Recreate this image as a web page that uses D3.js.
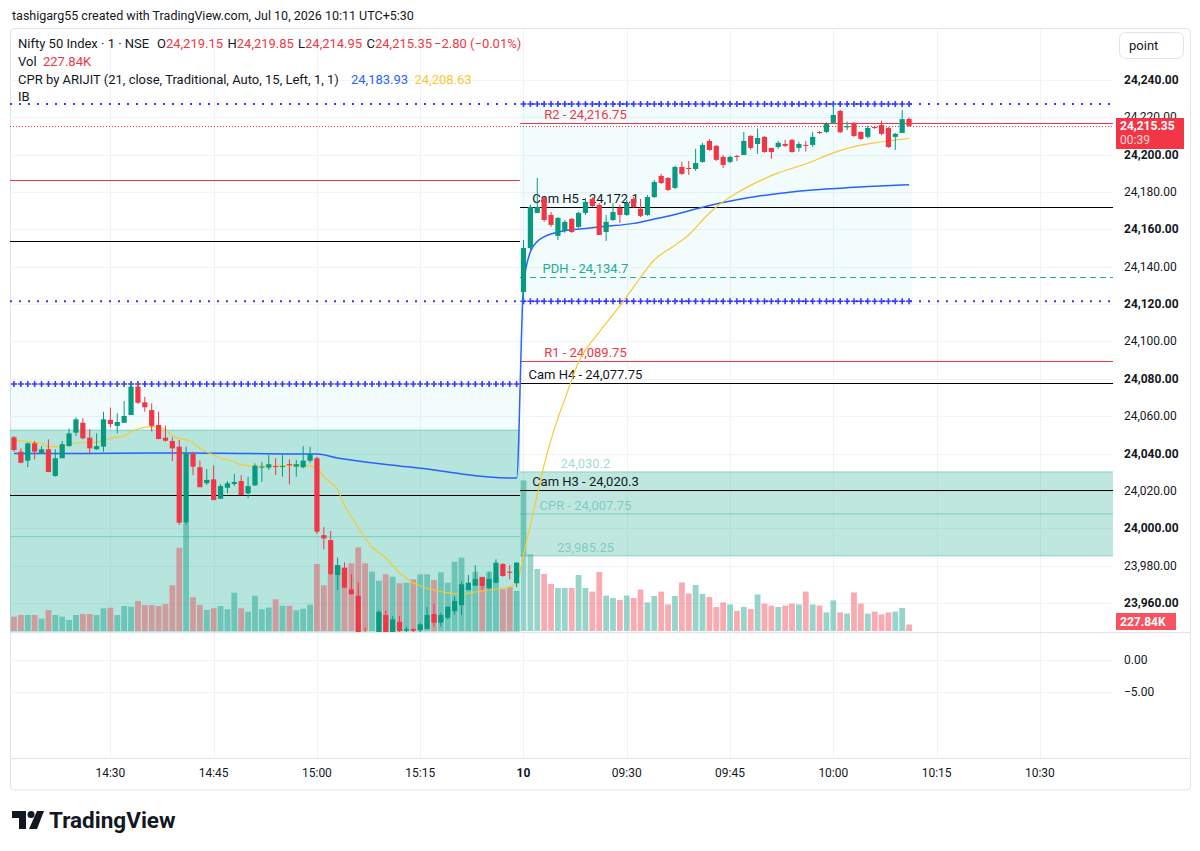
<!DOCTYPE html>
<meta charset="utf-8">
<head>
<style>
  html, body { margin: 0; padding: 0; background: #ffffff; }
  svg text { font-family: Roboto, "Noto Sans", sans-serif; fill: #131722; }
</style>
<script src="https://d3js.org/d3.v7.min.js"></script>
</head>
<body>
<script>

// DATA  (price bars as [open, high, low, close])

// 14:16 .. 15:29 previous session
var prevOhlc = [
  [24048.7,24049.4,24041.0,24041.9],[24041.0,24042.8,24034.8,24035.1],[24036.2,24045.8,24032.7,24045.5],
  [24045.5,24046.7,24036.9,24041.0],[24039.8,24044.0,24039.8,24042.3],[24042.3,24047.6,24030.1,24030.1],
  [24028.0,24042.3,24027.6,24037.5],[24037.5,24046.7,24037.5,24045.0],[24044.0,24053.3,24043.7,24050.8],
  [24051.2,24059.4,24049.4,24058.3],[24056.5,24058.9,24047.6,24048.2],[24048.5,24053.0,24039.6,24042.8],
  [24042.3,24050.8,24041.9,24044.0],[24043.7,24062.4,24041.0,24058.3],[24058.0,24064.6,24053.9,24055.8],
  [24054.8,24061.6,24050.8,24056.9],[24056.5,24068.1,24056.5,24060.1],[24060.6,24077.9,24060.6,24075.8],
  [24075.8,24077.9,24066.5,24067.2],[24067.4,24070.4,24062.4,24064.8],[24063.3,24066.9,24051.8,24054.8],
  [24055.3,24062.4,24047.6,24047.8],[24048.5,24054.8,24046.4,24046.9],[24046.7,24048.7,24036.0,24042.8],
  [24043.7,24047.3,24001.8,24003.0],[24003.0,24043.7,24001.8,24040.1],[24039.8,24041.0,24028.5,24033.0],
  [24032.7,24036.2,24022.0,24022.0],[24024.1,24031.6,24023.2,24025.9],[24026.2,24033.7,24015.1,24015.1],
  [24015.8,24023.7,24015.8,24022.6],[24021.7,24025.3,24018.7,24024.1],[24023.7,24029.1,24022.6,24024.8],
  [24025.3,24028.5,24017.8,24017.8],[24018.7,24027.6,24016.1,24022.6],[24023.0,24034.8,24022.6,24033.5],
  [24032.7,24035.5,24024.9,24033.0],[24032.5,24039.2,24031.2,24034.3],[24033.3,24037.5,24028.5,24033.0],
  [24033.0,24039.2,24027.6,24033.3],[24034.3,24036.9,24023.5,24033.7],[24033.0,24036.6,24027.6,24034.3],
  [24032.7,24044.0,24032.1,24036.2],[24036.2,24043.7,24035.1,24039.8],[24037.5,24038.3,23996.9,23998.2],
  [23996.3,24000.6,23988.8,23994.6],[23993.7,23998.6,23975.0,23975.5],[23975.0,23984.3,23967.0,23980.3],
  [23978.9,23981.8,23968.2,23968.2],[23967.3,23975.5,23964.7,23964.7],[23963.9,23971.1,23942.0,23944.0],
  [23944.5,23947.0,23936.0,23939.0],[23939.0,23944.5,23935.5,23942.5],[23942.5,23956.3,23941.0,23955.3],
  [23953.6,23955.9,23942.0,23944.0],[23944.5,23953.0,23943.0,23951.3],[23950.0,23953.0,23943.0,23945.0],
  [23945.2,23947.3,23944.0,23946.0],[23946.0,23946.4,23944.0,23945.2],[23945.5,23949.4,23944.5,23948.6],
  [23946.1,23958.0,23946.1,23953.6],[23954.1,23959.8,23947.3,23949.5],[23949.5,23954.8,23947.3,23953.6],
  [23952.1,23958.0,23951.3,23958.0],[23955.7,23963.4,23954.0,23961.1],[23958.9,23971.4,23953.6,23970.0],
  [23967.0,23975.0,23967.0,23970.9],[23969.3,23980.3,23969.3,23972.9],[23973.8,23973.8,23967.0,23969.1],
  [23967.9,23976.8,23967.3,23972.9],[23970.9,23983.4,23970.6,23981.6],[23980.9,23981.3,23974.1,23974.5],
  [23976.8,23980.3,23972.7,23976.2],[23970.6,23982.0,23968.4,23981.6]
];

// 09:15 .. 10:11 today
var todayOhlc = [
  [24126.5,24154.3,24121.5,24150.0],[24150.0,24173.1,24149.0,24172.0],[24168.8,24187.5,24168.8,24172.0],
  [24176.8,24177.3,24164.0,24165.0],[24167.7,24169.3,24161.3,24162.4],[24156.5,24166.6,24154.3,24166.1],
  [24159.1,24165.0,24158.1,24164.0],[24165.6,24166.1,24158.1,24158.6],[24161.3,24169.3,24160.8,24168.8],
  [24168.8,24176.8,24167.7,24174.7],[24176.3,24177.3,24172.0,24172.5],[24173.1,24174.1,24157.0,24157.0],
  [24158.6,24167.7,24153.8,24164.0],[24165.0,24174.1,24164.5,24169.3],[24171.5,24173.1,24163.4,24167.7],
  [24167.7,24175.7,24167.2,24174.1],[24176.3,24177.3,24171.5,24172.0],[24171.0,24176.3,24166.6,24167.2],
  [24167.7,24178.4,24167.2,24177.3],[24177.3,24186.4,24176.8,24185.4],[24188.6,24189.7,24184.3,24184.8],
  [24187.5,24188.0,24180.5,24181.1],[24182.2,24194.0,24181.6,24193.4],[24193.4,24196.1,24189.1,24189.7],
  [24192.9,24196.6,24189.1,24192.3],[24192.3,24203.1,24191.3,24195.5],[24196.1,24206.3,24195.6,24205.2],
  [24207.3,24208.4,24202.0,24202.5],[24204.7,24205.2,24196.6,24197.2],[24198.8,24199.8,24192.9,24194.5],
  [24196.1,24199.5,24195.4,24198.8],[24199.3,24199.8,24196.6,24198.8],[24199.8,24212.1,24199.8,24207.3],
  [24210.0,24210.5,24202.5,24203.6],[24205.7,24214.0,24200.4,24208.9],[24209.5,24210.0,24201.0,24201.4],
  [24203.6,24203.6,24197.7,24201.4],[24204.1,24207.3,24203.1,24206.3],[24205.7,24207.9,24204.1,24204.7],
  [24207.9,24208.4,24201.0,24201.4],[24203.6,24206.9,24201.6,24205.7],[24205.2,24207.3,24201.6,24204.7],
  [24205.2,24212.0,24204.1,24209.5],[24212.1,24212.6,24211.0,24211.6],[24212.1,24217.3,24211.6,24216.4],
  [24217.0,24227.0,24216.4,24221.2],[24223.4,24224.0,24211.5,24212.0],[24214.6,24217.8,24213.1,24215.3],
  [24217.0,24217.5,24209.5,24210.0],[24212.1,24212.6,24207.9,24208.4],[24209.5,24215.4,24208.6,24214.3],
  [24214.8,24215.4,24213.8,24214.3],[24215.9,24218.2,24210.5,24211.1],[24214.3,24214.8,24203.6,24204.1],
  [24209.5,24211.6,24202.5,24211.1],[24211.6,24223.9,24211.6,24219.0],[24219.15,24219.85,24214.95,24215.35]
];

// volume, thousands
var prevVol = [500,560,560,560,430,735,560,500,385,560,595,595,560,795,815,560,875,850,1050,910,910,875,945,1600,
  2915,3770,1180,910,735,795,875,760,1340,795,675,1235,760,820,1110,885,885,725,780,920,2345,1600,1995,2310,2215,
  2370,2930,2370,2075,1760,1985,1900,1670,1690,1810,1985,1985,1785,2055,1690,2425,2565,1540,2075,1900,2075,1900,
  1460,1550,1400];
var todayVol = [5270,2680,2170,1995,1645,1505,1505,1505,1960,1505,1380,2065,1240,1155,1085,1240,1155,1450,1000,
  1225,1380,930,1225,1700,1310,1610,1295,1190,840,1000,930,700,840,770,1280,960,890,840,890,960,930,1380,930,890,
  650,1070,650,610,1350,960,610,680,580,650,680,805,227.84];

// EMA 21 (yellow) and VWAP (blue), [bar, value]
var emaPoints = [[0,24047.3],[2,24046.4],[4,24045.5],[5,24043.7],[7,24043.7],[8,24045.1],[10,24045.8],[11,24045.8],
  [13,24046.9],[14,24048.2],[16,24049.4],[17,24051.7],[19,24054.1],[20,24054.4],[22,24053.0],[23,24049.4],
  [25,24047.3],[26,24045.8],[27,24042.8],[29,24039.2],[30,24037.5],[32,24035.6],[33,24033.9],[35,24033.3],
  [37,24033.3],[42,24033.9],[44,24032.3],[45,24027.5],[47,24020.5],[48,24012.5],[50,24000.7],[52,23990.0],
  [54,23984.1],[56,23976.1],[58,23970.7],[61,23967.0],[63,23965.4],[65,23964.8],[67,23965.9],[70,23967.5],
  [72,23968.6],[73,23970.7],[74,23985.7],[75,24001.8],[76,24017.8],[77,24033.9],[78,24047.3],[79,24059.0],
  [80,24069.0],[82,24089.0],[85,24105.0],[88,24119.0],[90,24129.2],[93,24143.6],[96,24151.5],[98,24157.0],
  [100,24165.0],[102,24172.0],[105,24179.5],[108,24185.4],[111,24190.2],[115,24195.0],[119,24200.9],
  [122,24204.3],[125,24206.3],[127,24207.3],[130,24208.63]];
var vwapPoints = [[0,24040.0],[10,24040.1],[20,24040.3],[30,24040.2],[40,24039.8],[44,24039.8],[47,24037.6],
  [51,24035.5],[56,24033.4],[61,24031.2],[65,24029.1],[69,24027.5],[73,24026.9],[74,24130.0],[75,24148.0],
  [76,24153.5],[77,24156.0],[78,24157.5],[80,24159.3],[83,24160.5],[86,24161.6],[90,24163.2],[93,24165.5],
  [96,24168.0],[99,24170.9],[102,24173.6],[105,24175.8],[108,24177.7],[112,24179.6],[116,24181.0],
  [120,24182.0],[124,24183.0],[128,24183.6],[130,24183.93]];

// levels
var todayLevelNames = ["R2", "Cam H5", "PDH", "R1", "Cam H4", "Cam H3"];
var todayLevelValues = [24216.75, 24172.1, 24134.7, 24089.75, 24077.75, 24020.3];
var prevLevelNames = ["R2", "Cam H5", "Cam H3"];
var prevLevelValues = [24186.4, 24153.8, 24017.8];
var cprToday = [24030.2, 24007.75, 23985.25];   // TC, pivot, BC
var cprPrev = [24052.6, 23995.5, 23938.0];
var ibToday = [24227.1, 24121.5];                // initial balance high / low
var ibPrev = [24077.2, 23900.0];

var priceTicks = [23960, 23980, 24000, 24020, 24040, 24060, 24080, 24100, 24120, 24140, 24160, 24180, 24200, 24220, 24240];
var pane2Ticks = [0, -5];
var timeTickBars = [14, 29, 44, 59, 74, 89, 104, 119, 134, 149];
var timeTickLabels = ["14:30", "14:45", "15:00", "15:15", "10", "09:30", "09:45", "10:00", "10:15", "10:30"];

var lastPrice = 24215.35, lastVolLabel = "227.84K", countdown = "00:39";

// SETUP

var red = "#f23645", green = "#089981", teal = "#22ab94", blue = "#2962ff", ibBlue = "#3a3aff", ema = "#f7c92f";
var chartL = 10, chartR = 1113, axisR = 1190,
    paneTop = 30, paneBot = 632, pane2Bot = 758, frameBot = 790;

var bars = prevOhlc.concat(todayOhlc).map(function(d, i) {
  return { i: i, o: d[0], h: d[1], l: d[2], c: d[3] };
});
var vols = prevVol.concat(todayVol);
var split = prevOhlc.length - 0.5, lastBar = bars.length - 1;

var x = d3.scaleLinear().domain([-0.58, 159.62]).range([chartL, chartR]);
var y = d3.scaleLinear().domain([23944.5, 24266.7]).range([paneBot, paneTop]);
var vy = d3.scaleLinear().domain([0, d3.max(vols)]).range([0, 150.6]);
var y2 = d3.scaleLinear().domain([-5, 0]).range([692, 660]);
var fmt = d3.format(",");

var svg = d3.select("body").append("svg")
  .attr("width", 1200).attr("height", 851);

svg.append("defs").append("clipPath").attr("id", "pane")
  .append("rect").attr("x", chartL).attr("y", paneTop)
  .attr("width", chartR - chartL).attr("height", paneBot - paneTop);

// frame + grid
svg.append("rect").attr("x", chartL + 0.5).attr("y", paneTop - 1.5)
  .attr("width", axisR - chartL).attr("height", frameBot - paneTop + 1.5)
  .attr("rx", 4).attr("fill", "none").attr("stroke", "#e0e3eb");

var grid = svg.append("g").attr("stroke", "#f0f3fa").attr("stroke-width", 1);
grid.selectAll(".vg").data(timeTickBars).enter().append("line")
  .attr("x1", function(d) { return Math.round(x(d)) + 0.5; })
  .attr("x2", function(d) { return Math.round(x(d)) + 0.5; })
  .attr("y1", paneTop).attr("y2", pane2Bot);
grid.selectAll(".hg").data(priceTicks).enter().append("line")
  .attr("x1", chartL).attr("x2", chartR)
  .attr("y1", function(d) { return Math.round(y(d)) + 0.5; })
  .attr("y2", function(d) { return Math.round(y(d)) + 0.5; });
grid.selectAll(".hg2").data(pane2Ticks).enter().append("line")
  .attr("x1", chartL).attr("x2", chartR)
  .attr("y1", function(d) { return Math.round(y2(d)) + 0.5; })
  .attr("y2", function(d) { return Math.round(y2(d)) + 0.5; });

svg.append("line").attr("x1", chartL).attr("x2", axisR).attr("y1", paneBot + 0.5).attr("y2", paneBot + 0.5)
  .attr("stroke", "#e0e3eb");
svg.append("line").attr("x1", chartL).attr("x2", axisR).attr("y1", pane2Bot + 0.5).attr("y2", pane2Bot + 0.5)
  .attr("stroke", "#e0e3eb");

var g = svg.append("g").attr("clip-path", "url(#pane)");

// initial balance shading
g.append("rect").attr("x", x(-0.58)).attr("width", x(split) - x(-0.58))
  .attr("y", y(ibPrev[0])).attr("height", y(ibPrev[1]) - y(ibPrev[0]))
  .attr("fill", "rgba(0,188,212,0.05)");
g.append("rect").attr("x", x(split)).attr("width", x(lastBar + 0.5) - x(split))
  .attr("y", y(ibToday[0])).attr("height", y(ibToday[1]) - y(ibToday[0]))
  .attr("fill", "rgba(0,188,212,0.05)");

// CPR zones
function cprZone(vals, x0, x1) {
  g.append("rect").attr("x", x0).attr("width", x1 - x0)
    .attr("y", y(vals[0])).attr("height", y(vals[2]) - y(vals[0]))
    .attr("fill", "rgba(34,171,148,0.29)");
  g.selectAll(null).data(vals).enter().append("line")
    .attr("x1", x0).attr("x2", x1)
    .attr("y1", function(d) { return y(d); }).attr("y2", function(d) { return y(d); })
    .attr("stroke", "rgba(34,171,148,0.35)").attr("stroke-width", 1.2);
}
cprZone(cprPrev, chartL, x(split));
cprZone(cprToday, x(split), chartR);

// volume
g.selectAll(".vol").data(bars).enter().append("rect")
  .attr("x", function(d) { return x(d.i) - 2.9; })
  .attr("width", 5.8)
  .attr("y", function(d) { return paneBot - 1 - vy(vols[d.i]); })
  .attr("height", function(d) { return vy(vols[d.i]); })
  .attr("fill", function(d) { return d.c >= d.o ? "rgba(8,153,129,0.42)" : "rgba(242,54,69,0.42)"; });

// level lines
function levelStyle(name) {
  if (name.charAt(0) === "R") return { color: red, dash: null };
  if (name === "PDH") return { color: teal, dash: "6,4" };
  return { color: "#000000", dash: null };
}
prevLevelNames.forEach(function(n, k) {
  var s = levelStyle(n);
  g.append("line").attr("x1", chartL).attr("x2", x(split))
    .attr("y1", Math.round(y(prevLevelValues[k])) + 0.5).attr("y2", Math.round(y(prevLevelValues[k])) + 0.5)
    .attr("stroke", s.color).attr("stroke-dasharray", s.dash);
});
todayLevelNames.forEach(function(n, k) {
  var s = levelStyle(n), yy = Math.round(y(todayLevelValues[k])) + 0.5;
  g.append("line").attr("x1", x(split)).attr("x2", chartR)
    .attr("y1", yy).attr("y2", yy)
    .attr("stroke", s.color).attr("stroke-dasharray", s.dash);
});

// IB dotted lines and crosses
ibToday.forEach(function(v) {
  g.append("line").attr("x1", chartL).attr("x2", chartR)
    .attr("y1", y(v)).attr("y2", y(v))
    .attr("stroke", ibBlue).attr("stroke-width", 2).attr("stroke-dasharray", "2,7");
});
function crosses(v, from, to) {
  var p = "";
  for (var i = from; i <= to; i++) {
    var cx = x(i), cy = y(v);
    p += "M" + (cx - 3) + "," + cy + "H" + (cx + 3) + "M" + cx + "," + (cy - 3) + "V" + (cy + 3);
  }
  g.append("path").attr("d", p).attr("stroke", ibBlue).attr("stroke-width", 1.6).attr("fill", "none");
}
crosses(ibPrev[0], 0, prevOhlc.length - 1);
crosses(ibToday[0], prevOhlc.length, lastBar);
crosses(ibToday[1], prevOhlc.length, lastBar);

// last price line
g.append("line").attr("x1", chartL).attr("x2", chartR)
  .attr("y1", Math.round(y(lastPrice)) + 0.5).attr("y2", Math.round(y(lastPrice)) + 0.5)
  .attr("stroke", red).attr("stroke-dasharray", "1,2");

// level labels
var labelBar = 83;
todayLevelNames.forEach(function(n, k) {
  var s = levelStyle(n);
  g.append("text").attr("x", x(labelBar)).attr("y", y(todayLevelValues[k]) - 4)
    .attr("text-anchor", "middle").attr("font-size", 13)
    .style("fill", s.color === "#000000" ? "#131722" : s.color)
    .text(n + " - " + fmt(todayLevelValues[k]));
});
["", "CPR - ", ""].forEach(function(pre, k) {
  g.append("text").attr("x", x(labelBar)).attr("y", y(cprToday[k]) - 4)
    .attr("text-anchor", "middle").attr("font-size", 13)
    .style("fill", "rgba(34,171,148,0.45)")
    .text(pre + fmt(cprToday[k]));
});

// indicator lines
var line = d3.line()
  .x(function(d) { return x(d[0]); })
  .y(function(d) { return y(d[1]); })
  .curve(d3.curveMonotoneX);
g.append("path").datum(vwapPoints).attr("d", line)
  .attr("fill", "none").attr("stroke", blue).attr("stroke-width", 1.5);
g.append("path").datum(emaPoints).attr("d", line)
  .attr("fill", "none").attr("stroke", ema).attr("stroke-width", 1.2);

// candles
var candle = g.selectAll(".candle").data(bars).enter().append("g");
candle.append("line")
  .attr("x1", function(d) { return x(d.i); }).attr("x2", function(d) { return x(d.i); })
  .attr("y1", function(d) { return y(d.h); }).attr("y2", function(d) { return y(d.l); })
  .attr("stroke", function(d) { return d.c >= d.o ? green : red; }).attr("stroke-width", 1);
candle.append("rect")
  .attr("x", function(d) { return x(d.i) - 2.6; }).attr("width", 5.2)
  .attr("y", function(d) { return y(Math.max(d.o, d.c)); })
  .attr("height", function(d) { return Math.max(1, Math.abs(y(d.o) - y(d.c))); })
  .attr("fill", function(d) { return d.c >= d.o ? green : red; });

// price axis (the 24,220 label sits under the last-price badge, as in the original)
var by = Math.round(y(lastPrice)) - 8;
svg.append("clipPath").attr("id", "axisclip").append("path")
  .attr("d", "M1113,30H1190V" + by + "H1113Z M1113," + (by + 31) + "H1190V632H1113Z");
svg.append("g").attr("clip-path", "url(#axisclip)")
  .selectAll(".pl").data(priceTicks).enter().append("text")
  .attr("x", 1124).attr("y", function(d) { return y(d) + 4; })
  .attr("font-size", 12)
  .attr("font-weight", function(d) { return d % 40 === 0 ? "bold" : "normal"; })
  .text(function(d) { return d3.format(",.2f")(d); });
svg.selectAll(".pl2").data(pane2Ticks).enter().append("text")
  .attr("x", 1124).attr("y", function(d) { return y2(d) + 4; })
  .attr("font-size", 12)
  .text(function(d) { return d3.format(",.2f")(d).replace("-", "\u2212"); });

svg.append("rect").attr("x", 1116).attr("y", by).attr("width", 68).attr("height", 31).attr("fill", red);
svg.append("text").attr("x", 1120).attr("y", by + 12).attr("font-size", 12).attr("font-weight", "bold")
  .style("fill", "#fff").text(fmt(lastPrice));
svg.append("text").attr("x", 1120).attr("y", by + 26).attr("font-size", 12)
  .style("fill", "rgba(255,255,255,0.8)").text(countdown);

svg.append("rect").attr("x", 1116).attr("y", 613).attr("width", 60).attr("height", 17).attr("fill", "#f7525f");
svg.append("text").attr("x", 1120).attr("y", 626).attr("font-size", 12).attr("font-weight", "bold")
  .style("fill", "#fff").text(lastVolLabel);

svg.append("rect").attr("x", 1119.5).attr("y", 32.5).attr("width", 64).attr("height", 26).attr("rx", 6)
  .attr("fill", "#fff").attr("stroke", "#e0e3eb");
svg.append("text").attr("x", 1129).attr("y", 50).attr("font-size", 13).text("point");

// time axis
svg.selectAll(".tl").data(timeTickBars).enter().append("text")
  .attr("x", function(d) { return x(d); }).attr("y", 777)
  .attr("text-anchor", "middle").attr("font-size", 12)
  .attr("font-weight", function(d, k) { return timeTickLabels[k] === "10" ? "bold" : "normal"; })
  .text(function(d, k) { return timeTickLabels[k]; });

// header / legend
svg.append("text").attr("x", 12).attr("y", 20).attr("font-size", 12.5)
  .text("tashigarg55 created with TradingView.com, Jul 10, 2026 10:11 UTC+5:30");

var l1 = svg.append("text").attr("x", 18).attr("y", 48).attr("font-size", 13);
l1.append("tspan").text("Nifty 50 Index \u00b7 1 \u00b7 NSE");
[["O", 24219.15, 157], ["H", 24219.85, 227.5], ["L", 24214.95, 298], ["C", 24215.35, 366.5]].forEach(function(d) {
  l1.append("tspan").attr("x", d[2]).text(d[0]);
  l1.append("tspan").style("fill", red).text(fmt(d[1]));
});
l1.append("tspan").attr("x", 434).style("fill", red).text("\u22122.80 (\u22120.01%)");

var l2 = svg.append("text").attr("x", 18).attr("y", 66).attr("font-size", 13);
l2.append("tspan").text("Vol");
l2.append("tspan").attr("x", 43).style("fill", red).text(lastVolLabel);

var l3 = svg.append("text").attr("x", 18).attr("y", 84).attr("font-size", 13);
l3.append("tspan").text("CPR by ARIJIT (21, close, Traditional, Auto, 15, Left, 1, 1)");
l3.append("tspan").attr("x", 351).style("fill", blue).text(fmt(vwapPoints[vwapPoints.length - 1][1]));
l3.append("tspan").attr("x", 414.5).style("fill", ema).text(fmt(emaPoints[emaPoints.length - 1][1]));

svg.append("text").attr("x", 18).attr("y", 101).attr("font-size", 13).text("IB");

// TradingView logo
var logo = svg.append("g").attr("fill", "#131722");
logo.append("path").attr("d", "M12,811h14v18h-7v-11h-7z");
logo.append("circle").attr("cx", 31).attr("cy", 814.5).attr("r", 3.5);
logo.append("path").attr("d", "M37,811h7l-7,18h-8z");
svg.append("text").attr("x", 49).attr("y", 828).attr("font-size", 22.5).attr("font-weight", "bold")
  .text("TradingView");

</script>
</body>
